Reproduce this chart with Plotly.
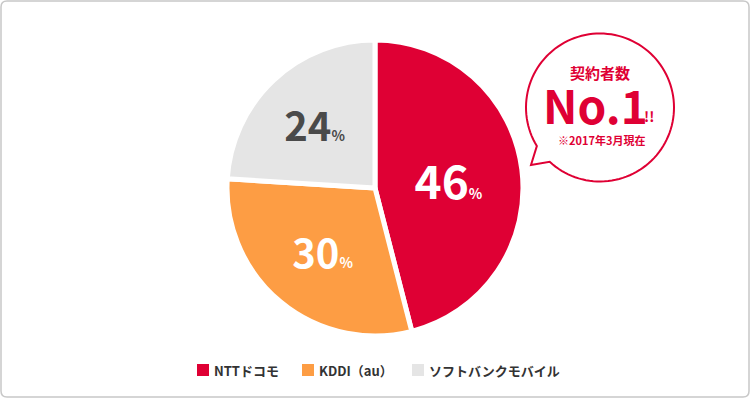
import numpy as np
import plotly.graph_objects as go

W, H = 750, 398

carriers = ["NTTドコモ", "KDDI（au）", "ソフトバンクモバイル"]
shares = [46, 30, 24]
slice_colors = ["#DF0034", "#FD9D44", "#E5E5E5"]
label_colors = ["#FFFFFF", "#FFFFFF", "#4A4A4A"]
label_sizes = [46, 40, 40]
legend_x = [197, 302, 412]

badge_title = "契約者数"
badge_main = "No.1"
badge_note = "※2017年3月現在"

RED = "#DF0034"
FONT = "Noto Sans CJK JP"


def px(x):
    return x / W


def py(y):
    return 1 - y / H


fig = go.Figure()

fig.add_trace(go.Pie(
    labels=carriers,
    values=shares,
    sort=False,
    direction="clockwise",
    rotation=0,
    marker=dict(colors=slice_colors, line=dict(color="white", width=5)),
    texttemplate="<b>%{value}</b><span style='font-size:14px'><b>%</b></span>",
    textposition="inside",
    insidetextorientation="horizontal",
    textfont=dict(family=FONT, size=label_sizes, color=label_colors),
    hoverinfo="label+percent",
    showlegend=False,
    domain=dict(x=[225 / W, 525 / W], y=[62 / H, 358 / H]),
))

shapes = []

# outer rounded border
r = 6
x0, y0, x1, y1 = 1, 1, 749, 397
pts = (
    f"M {px(x0 + r)},{py(y0)} L {px(x1 - r)},{py(y0)} "
    f"Q {px(x1)},{py(y0)} {px(x1)},{py(y0 + r)} "
    f"L {px(x1)},{py(y1 - r)} Q {px(x1)},{py(y1)} {px(x1 - r)},{py(y1)} "
    f"L {px(x0 + r)},{py(y1)} Q {px(x0)},{py(y1)} {px(x0)},{py(y1 - r)} "
    f"L {px(x0)},{py(y0 + r)} Q {px(x0)},{py(y0)} {px(x0 + r)},{py(y0)} Z"
)
shapes.append(dict(type="path", xref="paper", yref="paper", path=pts,
                   line=dict(color="#C8C8C8", width=1.5), fillcolor="rgba(0,0,0,0)"))

# speech bubble
cx, cy, rad = 600, 107.5, 74
a_start = np.deg2rad(148.6)
a_end = np.deg2rad(132.8 + 360)
angs = np.linspace(a_start, a_end, 120)
path = ""
for i, a in enumerate(angs):
    X = cx + rad * np.cos(a)
    Y = cy + rad * np.sin(a)
    path += ("M " if i == 0 else "L ") + f"{px(X)},{py(Y)} "
path += f"L {px(531)},{py(165)} Z"
shapes.append(dict(type="path", xref="paper", yref="paper", path=path,
                   line=dict(color=RED, width=2), fillcolor="white"))


def ann(text, x, y, size, color, xanchor="center"):
    return dict(text=text, x=px(x), y=py(y), xref="paper", yref="paper",
                xanchor=xanchor, yanchor="middle", showarrow=False,
                font=dict(family=FONT, size=size, color=color))


annotations = [
    ann(f"<b>{badge_title}</b>", 600, 73, 15, RED),
    ann(f"<b>{badge_main}</b>", 595, 104, 46, RED),
    ann("<b>!!</b>", 649, 116, 14, RED),
    ann(f"<b>{badge_note}</b>", 601, 140, 11, RED),
]

# legend (squares + labels)
ly = 370
for name, col, lx in zip(carriers, slice_colors, legend_x):
    shapes.append(dict(type="rect", xref="paper", yref="paper",
                       x0=px(lx), x1=px(lx + 12), y0=py(ly - 6), y1=py(ly + 6),
                       line=dict(width=0), fillcolor=col))
    annotations.append(ann(f"<b>{name}</b>", lx + 15, ly, 13, "#333333", xanchor="left"))

fig.update_layout(
    width=W, height=H,
    margin=dict(l=0, r=0, t=0, b=0),
    paper_bgcolor="white",
    plot_bgcolor="white",
    showlegend=False,
    shapes=shapes,
    annotations=annotations,
)

fig.write_html("out.html", config={"displayModeBar": False},
               post_script="document.body.style.margin='0';document.body.style.padding='0';")
